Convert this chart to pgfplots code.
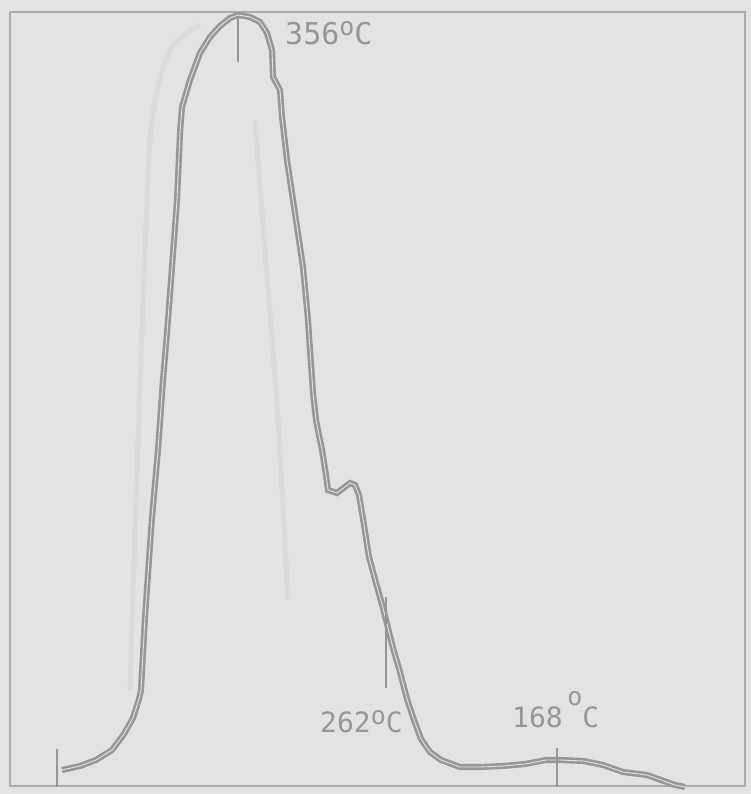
\documentclass[border=0pt]{standalone}
\usepackage{fontspec}
\setmainfont{DejaVu Sans Mono}
\usepackage{pgfplots}
\pgfplotsset{compat=1.18}
\definecolor{paper}{RGB}{226,227,226}
\definecolor{ink}{RGB}{150,150,150}
\definecolor{ghost}{RGB}{218,218,218}
\newcommand{\degsign}[1]{\raisebox{#1}{\fontsize{25}{25}\selectfont o}}
\begin{document}
\begin{tikzpicture}
\begin{axis}[
  hide axis, scale only axis,
  width=751pt, height=794pt,
  xmin=0, xmax=751, ymin=0, ymax=794, y dir=reverse,
  clip=false,
]
\fill[paper] (rel axis cs:0,0) rectangle (rel axis cs:1,1);
% frame
\addplot[draw=ink!80, line width=1.6pt] coordinates {(10,12) (745,12) (745,786) (10,786) (10,12)};
% faint ghost trace
\addplot[ghost, line width=5pt, smooth] coordinates {(130,690) (136,500) (145,250) (152,120) (170,50) (200,25)};
\addplot[ghost, line width=5pt, smooth] coordinates {(255,120) (265,250) (278,420) (288,600)};
% main curve
\addplot[draw=ink, line width=2.6pt, double=paper, double distance=0.9pt] coordinates {
(62,770) (80,766) (96,760) (112,750) (124,734) (133,718) (139,699) (141,690)
(145,617) (152,517) (158,450) (163,380) (167,333) (172,267) (177,200) (180,133)
(182,107) (190,80) (200,53) (210,37) (220,26) (230,18) (238,15) (250,17) (260,22)
(267,33) (272,50) (273,77) (280,90) (282,117) (287,160) (293,200) (303,267)
(308,320) (313,393) (316,420) (322,450) (326,475) (328,490) (337,493) (350,483) (355,485)
(359,495) (364,525) (369,557) (376,583) (383,608) (388,628) (393,648) (400,672) (407,699)
(414,720) (421,739) (430,752) (441,760) (460,767) (480,767) (503,766) (525,764) (546,760)
(560,760) (584,761) (603,765) (623,772) (647,775) (661,780) (675,785) (685,787)
};
% ticks
\addplot[draw=ink, line width=2.4pt] coordinates {(57,749) (57,787)};
\addplot[draw=ink, line width=2.4pt] coordinates {(238,17) (238,62)};
\addplot[draw=ink, line width=2.6pt] coordinates {(386,597) (386,688)};
\addplot[draw=ink, line width=2.4pt] coordinates {(557,748) (557,787)};
% labels
\node[text=ink, font=\fontsize{30}{30}\selectfont, anchor=base west, inner sep=0pt] at (axis cs:285,45) {356\degsign{9pt}C};
\node[text=ink, font=\fontsize{28}{28}\selectfont, anchor=base west, inner sep=0pt] at (axis cs:320,732) {262\degsign{8pt}C};
\node[text=ink, font=\fontsize{28}{28}\selectfont, anchor=base west, inner sep=0pt] at (axis cs:512,727) {168\,\degsign{22pt}C};
\end{axis}
\end{tikzpicture}
\end{document}
